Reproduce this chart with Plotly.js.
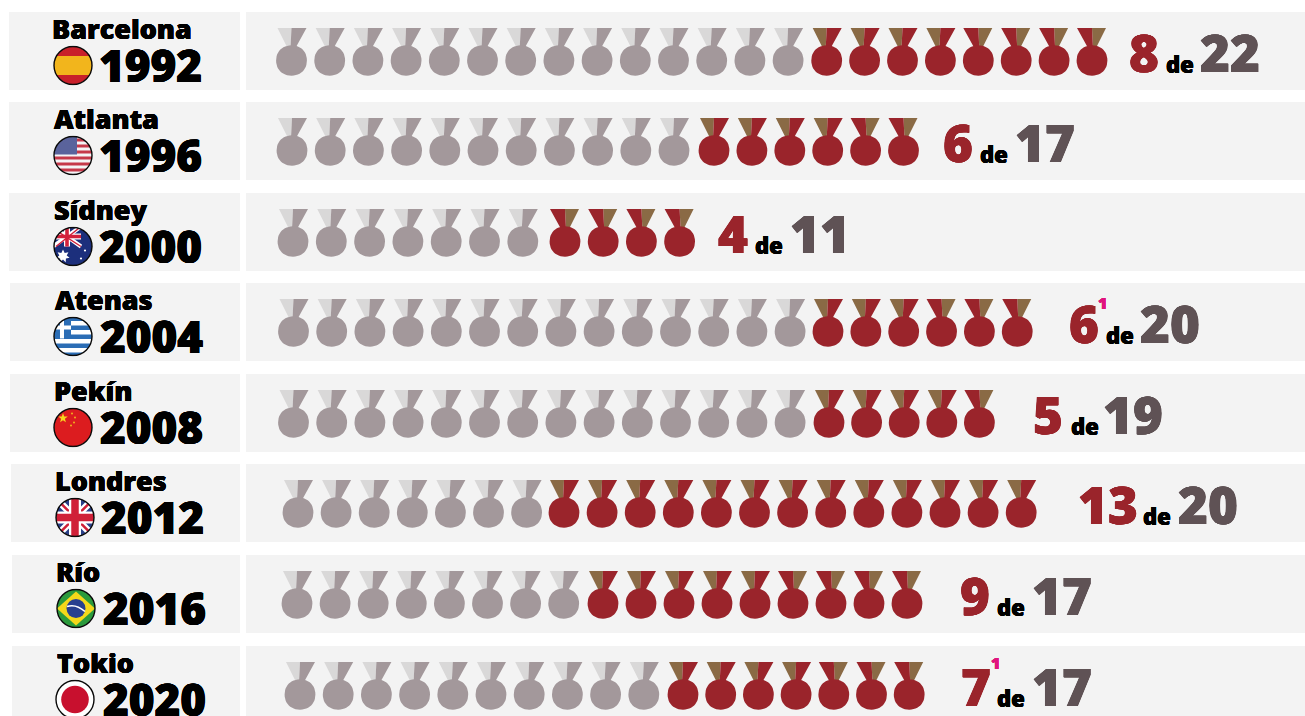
<!DOCTYPE html>
<html lang="es">
<head>
<meta charset="utf-8">
<title>Medallas de mujeres en los Juegos Olímpicos</title>
<script src="https://cdn.plot.ly/plotly-3.0.1.min.js"></script>
<style>html,body{margin:0;padding:0;background:#fff;overflow:hidden}#chart{width:1305px;height:716px}</style>
</head>
<body>
<div id="chart"></div>
<script>
// Medals per Games: total won and how many of them were won by women.
const cities = ["Barcelona","Atlanta","Sídney","Atenas","Pekín","Londres","Río","Tokio"];
const years = ["1992","1996","2000","2004","2008","2012","2016","2020"];
const flags = ["es","us","au","gr","cn","gb","br","jp"];
const womenMedals = [8,6,4,6,5,13,9,7];
const totalMedals = [22,17,11,20,19,20,17,17];

// Row geometry in pixels (the axes below span the page one to one).
const bandTop = [12,102,193,283,374,464,555,646];
const bandLeft = [9,9,9,10,10,11,12,12];
const firstGrey = [291.5,292,293,293.5,293.5,298,297,300];
const greyPitch = [38.2,38.2,38.3,38.2,38.2,38.1,38.1,38.2];
const firstRed = [826.7,714,565,828,829,564,603,683];
const redPitch = [37.9,37.9,38.2,37.85,37.6,38.1,38,37.7];
const nameX = [52,54,54,55,54,55,56,57];
const yearX = [99,99,99,100,100,101,103,103];
const flagX = [73,73,73,73,73,75,76,75];
const wonX = [1129,943,718,1069,1033,1078,960,961];
const deX = [1166,980,755,1106,1071,1143,997,997];
const totalX = [1200,1015,790,1140,1103,1178,1032,1032];
const noteX = [null,null,null,1098,null,null,null,991];
const noteY = [null,null,null,303,null,null,null,663];

// How many of the women's medals carry the brown strip on the left of the ribbon.
const brownLeftCount = [4,4,0,3,4,13,5,4];

const COLORS = {
  band:"#f3f3f3", grey:"#a3989b", greyLight:"#d9d8d8",
  red:"#9a242b", brown:"#8a6a45", total:"#5f5255", ink:"#000000", note:"#e0147c"
};
const FONT = "'Open Sans', sans-serif";

const ribbons = {}, discs = {};
function addPoly(store, color, pts){
  store[color] = store[color] || {x:[],y:[]};
  pts.concat([pts[0]]).forEach(p=>{store[color].x.push(p[0]);store[color].y.push(p[1]);});
  store[color].x.push(null);store[color].y.push(null);
}
// A medal: two-tone ribbon (s = 1 accent on the left, s = -1 on the right) over a soft disc.
function addMedal(cx, top, accent, main, disc, s){
  const ry = top+16;
  addPoly(ribbons,accent,[[cx-14*s,ry],[cx,ry],[cx-s,ry+20],[cx-4*s,ry+20]]);
  addPoly(ribbons,main,[[cx,ry],[cx+15*s,ry],[cx+4*s,ry+20],[cx-s,ry+20]]);
  const cy = top+48.5, pts=[];
  for(let a=0;a<48;a++){
    const t=a/48*2*Math.PI, c=Math.cos(t), sn=Math.sin(t), e=2/2.15;
    pts.push([cx+15.4*Math.sign(c)*Math.pow(Math.abs(c),e),cy+15.2*Math.sign(sn)*Math.pow(Math.abs(sn),e)]);
  }
  addPoly(discs,disc,pts);
}
cities.forEach((c,i)=>{
  const greys = totalMedals[i]-womenMedals[i];
  for(let k=0;k<greys;k++){
    addMedal(firstGrey[i]+k*greyPitch[i],bandTop[i],COLORS.greyLight,COLORS.grey,COLORS.grey,1);
  }
  for(let k=0;k<womenMedals[i];k++){
    addMedal(firstRed[i]+k*redPitch[i],bandTop[i],COLORS.brown,COLORS.red,COLORS.red,k<brownLeftCount[i]?1:-1);
  }
});

const toTrace = (store,color)=>({
  type:"scatter",mode:"lines",x:store[color].x,y:store[color].y,
  fill:"toself",fillcolor:color,line:{width:0,color:color},hoverinfo:"skip",showlegend:false
});
const traces = Object.keys(ribbons).map(c=>toTrace(ribbons,c))
  .concat(Object.keys(discs).map(c=>toTrace(discs,c)));

const shapes=[], annotations=[], images=[];
const bandH = 78;
// Thickens the installed weight so the heavy display lettering reads as extra bold.
const heavy = (color,w)=>`${w}px 0 0 ${color}, -${w}px 0 0 ${color}, 0 ${w/2}px 0 ${color}, 0 -${w/2}px 0 ${color}`;
cities.forEach((c,i)=>{
  [[bandLeft[i],240],[246,1305]].forEach(r=>shapes.push({
    type:"rect",xref:"x",yref:"y",x0:r[0],x1:r[1],y0:bandTop[i],y1:bandTop[i]+bandH,
    fillcolor:COLORS.band,line:{width:0},layer:"below"
  }));
  const label=(x,y,text,size,color,w)=>annotations.push({
    xref:"x",yref:"y",x:x,y:y,text:text,showarrow:false,xanchor:"left",yanchor:"middle",
    align:"left",borderpad:0,borderwidth:0,
    font:{family:FONT,size:size,color:color,weight:800,shadow:w?heavy(color,w):"none"}
  });
  label(nameX[i],bandTop[i]+16.7,c,27,COLORS.ink,0.3);
  label(yearX[i],bandTop[i]+53,years[i],44,COLORS.ink,0.5);
  label(wonX[i],bandTop[i]+39.5,String(womenMedals[i]),51,COLORS.red,0.5);
  label(deX[i],bandTop[i]+52,"de",22,COLORS.ink,0.3);
  label(totalX[i],bandTop[i]+39.5,String(totalMedals[i]),51,COLORS.total,0.5);
  if(noteX[i]!==null) label(noteX[i],noteY[i],"1",16,COLORS.note,0.2);
});

// Country flags, clipped to a disc.
const flagBody = {
  es:'<rect width="40" height="40" fill="#c8202a"/><rect y="10.5" width="40" height="19" fill="#f2b51c"/>',
  us:'<rect width="40" height="40" fill="#f4f4f6"/>'+[3,9,15,21,27,33].map(y=>`<rect y="${y}" width="40" height="3" fill="#c6394a"/>`).join("")+'<rect width="24" height="19" fill="#5a639c"/>',
  au:'<rect width="40" height="40" fill="#1c2f7c"/><path d="M0 0L28 20M28 0L0 20" stroke="#fff" stroke-width="4"/><path d="M14 0V20M0 10H28" stroke="#fff" stroke-width="6"/><path d="M14 0V20M0 10H28" stroke="#d2213c" stroke-width="3.6"/><path d="M0 2L28 20M28 0L3 20" stroke="#d2213c" stroke-width="1.4"/><path d="M10 23l1.7 3.6 3.7-.9-1.7 3.4 2.9 2.2-3.7.7-.2 3.8-2.7-2.8-2.7 2.8-.2-3.8-3.7-.7 2.9-2.2-1.7-3.4 3.7.9z" fill="#fff"/><circle cx="32" cy="24" r="1.1" fill="#fff"/><circle cx="28" cy="32" r="1.1" fill="#fff"/>',
  gr:'<rect width="40" height="40" fill="#fff"/>'+[0,9,18,27,36].map(y=>`<rect y="${y}" width="40" height="4.5" fill="#2b6db5"/>`).join("")+'<rect width="18" height="22" fill="#2b6db5"/><path d="M9 0V22M0 11H18" stroke="#fff" stroke-width="4"/>',
  cn:'<rect width="40" height="40" fill="#dc1c1f"/><path d="M10 5.5l1.2 3.4 3.6.1-2.9 2.2 1 3.5-2.9-2-2.9 2 1-3.5-2.9-2.2 3.6-.1z" fill="#f7d51d"/><circle cx="19" cy="6" r="1" fill="#f2b51c"/><circle cx="22" cy="10" r="1" fill="#f2b51c"/><circle cx="21" cy="15" r="1" fill="#f2b51c"/><circle cx="18" cy="18" r="1" fill="#f2b51c"/>',
  gb:'<rect width="40" height="40" fill="#2a3f88"/><path d="M0 0L40 40M40 0L0 40" stroke="#fff" stroke-width="7"/><path d="M0 0L40 40M40 0L0 40" stroke="#d02038" stroke-width="2.5"/><path d="M20 0V40M0 20H40" stroke="#fff" stroke-width="12"/><path d="M20 0V40M0 20H40" stroke="#d02038" stroke-width="7.5"/>',
  br:'<rect width="40" height="40" fill="#2b9a3c"/><path d="M20 3L39 20L20 37L1 20Z" fill="#f4d81a"/><circle cx="20" cy="20" r="9.5" fill="#27408f"/><path d="M11 18Q20 15 29 23" stroke="#fff" stroke-width="1.6" fill="none"/>',
  jp:'<rect width="40" height="40" fill="#fff"/><circle cx="20" cy="20" r="13.8" fill="#c8102e"/>'
};
function flagSource(code){
  const svg = '<svg xmlns="http://www.w3.org/2000/svg" viewBox="0 0 40 40" width="160" height="160">'+
    '<defs><clipPath id="d"><circle cx="20" cy="20" r="19"/></clipPath></defs>'+
    '<g clip-path="url(#d)">'+flagBody[code]+'</g>'+
    '<circle cx="20" cy="20" r="19" fill="none" stroke="#0a0a0a" stroke-width="1.4"/></svg>';
  return "data:image/svg+xml;base64,"+btoa(svg);
}
flags.forEach((code,i)=>images.push({
  source:flagSource(code),xref:"x",yref:"y",x:flagX[i]-20,y:bandTop[i]+33.5,sizex:40,sizey:40,
  xanchor:"left",yanchor:"top",sizing:"stretch",layer:"above"
}));

const hidden = {visible:false,fixedrange:true};
Plotly.newPlot("chart",traces,{
  width:1305,height:716,margin:{l:0,r:0,t:0,b:0,pad:0},
  paper_bgcolor:"#ffffff",plot_bgcolor:"#ffffff",showlegend:false,
  xaxis:Object.assign({range:[0,1305]},hidden),
  yaxis:Object.assign({range:[716,0]},hidden),
  shapes:shapes,annotations:annotations,images:images
},{displayModeBar:false,staticPlot:true});
</script>
</body>
</html>
